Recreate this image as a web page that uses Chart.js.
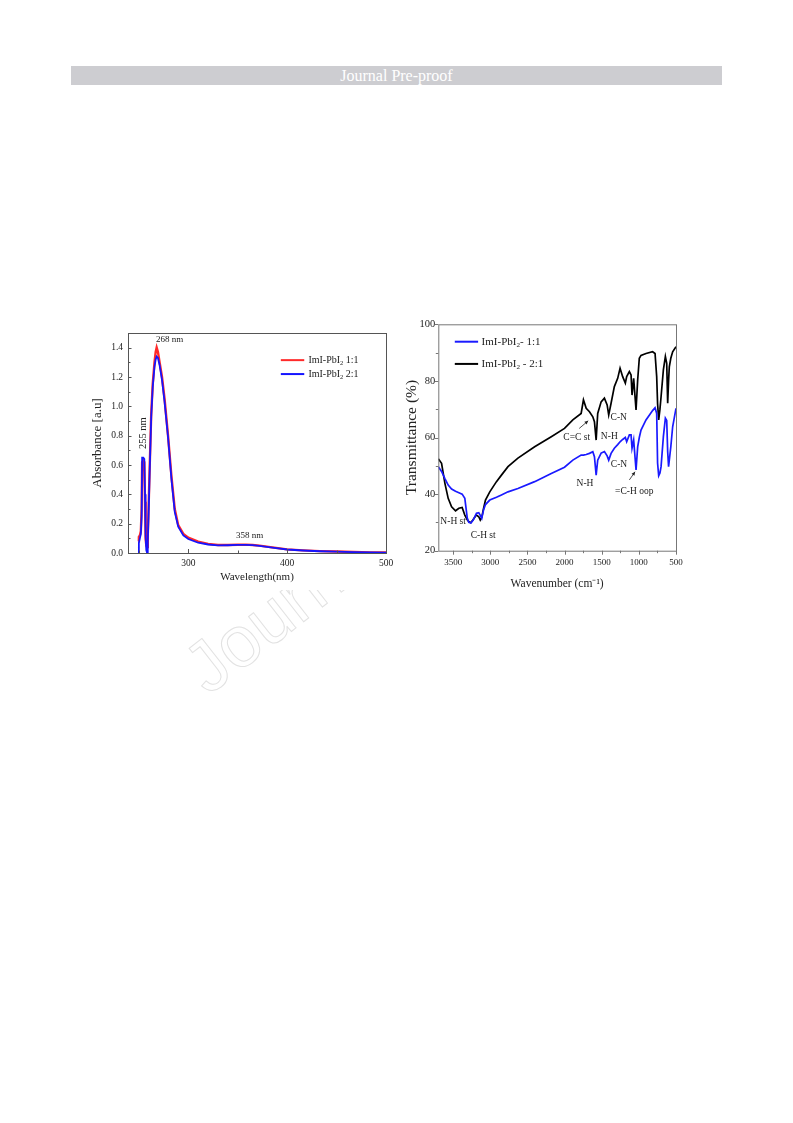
<!DOCTYPE html>
<html>
<head>
<meta charset="utf-8">
<script src="https://cdn.jsdelivr.net/npm/chart.js@4.4.1/dist/chart.umd.min.js"></script>
<style>
  body { margin: 0; background: #fff; width: 793px; height: 1123px; position: relative; overflow: hidden; font-family: "Liberation Serif", serif; }
  #header { position: absolute; left: 71px; top: 66px; width: 651px; height: 19px; background: #cdcdd1; color: #fff; font-size: 16px; line-height: 19px; text-align: center; }
  #wm { position: absolute; left: 215px; top: 633px; font-family: "Liberation Sans", sans-serif; font-size: 72px; line-height: 72px; white-space: nowrap; color: transparent; -webkit-text-stroke: 1px #e2e2e2; transform-origin: 0 100%; transform: rotate(-38deg); }
  .box { position: absolute; background: #fff; }
  #uvBox { left: 85px; top: 320px; width: 315px; height: 270px; }
  #irBox { left: 400px; top: 315px; width: 290px; height: 280px; }
</style>
</head>
<body>
<div id="header">Journal Pre-proof</div>
<div id="wm">Journal</div>
<div class="box" id="uvBox"><canvas id="uv" width="315" height="270"></canvas></div>
<div class="box" id="irBox"><canvas id="ir" width="290" height="280"></canvas></div>
<script>
// --- UV-vis (gauche) ---
const uvWavelength = [249.5, 250, 251, 252, 252.8, 253.3, 254.5, 255.5, 256.2, 256.8, 257.5, 258.3, 259, 259.8, 260.8, 262.5, 264, 265.8, 267, 268, 269.3, 271, 273.4, 276, 279.5, 283, 286.3, 289.8, 295, 300, 310, 320, 330, 340, 350, 358, 365, 372, 385, 400, 416, 433, 450, 467, 484, 500];
const uvRed  = [0.08, 0.11, 0.12, 0.15, 0.30, 0.62, 0.63, 0.62, 0.35, 0.10, 0.05, 0.04, 0.12, 0.30, 0.55, 0.95, 1.15, 1.30, 1.37, 1.40, 1.37, 1.30, 1.20, 1.05, 0.80, 0.52, 0.30, 0.19, 0.13, 0.105, 0.078, 0.062, 0.055, 0.055, 0.056, 0.057, 0.055, 0.050, 0.038, 0.025, 0.018, 0.013, 0.010, 0.007, 0.004, 0.003];
const uvBlue = [0.0, 0.07, 0.10, 0.13, 0.25, 0.65, 0.65, 0.64, 0.40, 0.12, 0.02, 0.0, 0.08, 0.25, 0.52, 0.93, 1.13, 1.27, 1.32, 1.34, 1.33, 1.28, 1.18, 1.03, 0.79, 0.50, 0.28, 0.18, 0.12, 0.095, 0.070, 0.058, 0.052, 0.053, 0.055, 0.056, 0.054, 0.049, 0.037, 0.024, 0.017, 0.012, 0.009, 0.006, 0.004, 0.003];
const uvXTicks = [300, 400, 500];
const uvXMinor = [250, 350, 450];
const uvYTicks = [0, 0.2, 0.4, 0.6, 0.8, 1.0, 1.2, 1.4];
const uvYMinor = [0.1, 0.3, 0.5, 0.7, 0.9, 1.1, 1.3];

// --- FTIR (droite) ---
const irWavenumber = [3700, 3656, 3611, 3567, 3521, 3468, 3423, 3379, 3343, 3310, 3290, 3262, 3230, 3200, 3186, 3155, 3135, 3115, 3090, 3065, 3007, 2917, 2850, 2762, 2628, 2403, 2179, 2001, 1889, 1777, 1746, 1709, 1665, 1620, 1598, 1575, 1554, 1508, 1464, 1427, 1406, 1374, 1330, 1285, 1253, 1218, 1182, 1164, 1128, 1105, 1092, 1070, 1038, 1016, 994, 971, 904, 815, 782, 760, 748, 733, 716, 701, 670, 643, 625, 612, 600, 590, 570, 545, 500];
const irBlack = [52.5, 50.9, 43.8, 38.5, 35.5, 34.1, 35.0, 35.3, 32.6, 30.9, 30.3, 29.9, 31.0, 32.2, 32.6, 32.0, 30.8, 31.8, 35.0, 37.9, 40.8, 44.4, 46.7, 49.7, 52.7, 56.7, 60.3, 63.2, 66.2, 68.5, 73.3, 70.3, 69.1, 67.3, 65.6, 59.1, 68.5, 72.6, 73.9, 71.5, 68.0, 72.1, 78.0, 80.9, 84.5, 81.5, 79.2, 81.5, 83.3, 82.1, 75.0, 80.9, 69.7, 80.3, 88.0, 89.0, 89.7, 90.3, 89.7, 81.5, 72.0, 66.2, 70.0, 74.4, 83.9, 88.6, 86.2, 72.1, 80.0, 85.0, 88.0, 90.3, 92.1];
const irBlue  = [49.7, 48.0, 45.5, 43.2, 41.8, 41.0, 40.5, 40.0, 38.5, 31.5, 30.0, 29.8, 30.8, 32.5, 33.2, 33.4, 32.5, 31.4, 34.5, 36.3, 37.9, 38.9, 39.7, 40.8, 42.0, 44.4, 47.3, 49.5, 52.0, 53.8, 53.8, 54.0, 54.4, 55.0, 53.2, 46.7, 52.0, 54.5, 55.0, 53.5, 52.0, 54.4, 56.2, 57.5, 58.5, 59.3, 60.0, 58.5, 60.9, 60.9, 56.2, 59.1, 48.5, 56.7, 60.0, 62.6, 66.2, 69.5, 70.5, 68.5, 51.0, 46.5, 47.5, 49.7, 60.3, 66.8, 66.0, 55.0, 49.7, 52.0, 56.7, 63.8, 70.3];
const irXTicks = [3500, 3000, 2500, 2000, 1500, 1000, 500];
const irXMinor = [3250, 2750, 2250, 1750, 1250, 750];
const irYTicks = [20, 40, 60, 80, 100];
const irYMinor = [30, 50, 70, 90];

const serif = "'Liberation Serif', 'Times New Roman', serif";
const ink = '#222';

const pts = (xs, ys) => xs.map((x, i) => ({ x: x, y: ys[i] }));

// Cadre + graduations (vers l'intérieur ou l'extérieur)
const frameTicks = {
    id: 'frameTicks',
    afterDraw(chart, args, o) {
        const { ctx, chartArea: a, scales: { x, y } } = chart;
        const d = o.inward ? -1 : 1;
        ctx.save();
        ctx.strokeStyle = o.color;
        ctx.lineWidth = 1;
        ctx.strokeRect(a.left + 0.5, a.top + 0.5, a.right - a.left, a.bottom - a.top);
        ctx.beginPath();
        const tx = (v, len) => { const p = Math.round(x.getPixelForValue(v)) + 0.5; ctx.moveTo(p, a.bottom); ctx.lineTo(p, a.bottom + d * len); };
        const ty = (v, len) => { const p = Math.round(y.getPixelForValue(v)) + 0.5; ctx.moveTo(a.left, p); ctx.lineTo(a.left - d * len, p); };
        o.xMajor.forEach(v => tx(v, 4));
        o.xMinor.forEach(v => tx(v, 2.5));
        o.yMajor.forEach(v => ty(v, 3.5));
        o.yMinor.forEach(v => ty(v, 2.5));
        ctx.stroke();
        ctx.restore();
    }
};

// Légende et annotations dessinées en coordonnées de données
const notes = {
    id: 'notes',
    afterDraw(chart, args, o) {
        const { ctx, scales: { x, y } } = chart;
        ctx.save();
        ctx.fillStyle = ink;
        ctx.strokeStyle = ink;
        (o.labels || []).forEach(l => {
            ctx.save();
            ctx.font = l.size + 'px ' + serif;
            ctx.textAlign = 'center';
            ctx.textBaseline = 'middle';
            ctx.translate(x.getPixelForValue(l.x), y.getPixelForValue(l.y));
            if (l.rot) ctx.rotate(l.rot);
            ctx.fillText(l.t, 0, 0);
            ctx.restore();
        });
        (o.arrows || []).forEach(ar => {
            const x0 = x.getPixelForValue(ar[0]), y0 = y.getPixelForValue(ar[1]);
            const x1 = x.getPixelForValue(ar[2]), y1 = y.getPixelForValue(ar[3]);
            const ang = Math.atan2(y1 - y0, x1 - x0);
            ctx.lineWidth = 0.8;
            ctx.beginPath(); ctx.moveTo(x0, y0); ctx.lineTo(x1, y1); ctx.stroke();
            ctx.beginPath();
            ctx.moveTo(x1, y1);
            ctx.lineTo(x1 - 4 * Math.cos(ang - 0.45), y1 - 4 * Math.sin(ang - 0.45));
            ctx.lineTo(x1 - 4 * Math.cos(ang + 0.45), y1 - 4 * Math.sin(ang + 0.45));
            ctx.closePath(); ctx.fill();
        });
        const lg = o.legend;
        if (lg) {
            lg.rows.forEach(r => {
                const py = y.getPixelForValue(r.y);
                ctx.strokeStyle = r.color;
                ctx.lineWidth = 2;
                ctx.beginPath(); ctx.moveTo(x.getPixelForValue(lg.x0), py); ctx.lineTo(x.getPixelForValue(lg.x1), py); ctx.stroke();
                let px = x.getPixelForValue(lg.tx);
                ctx.fillStyle = ink;
                ctx.textAlign = 'left';
                ctx.textBaseline = 'middle';
                ctx.font = lg.size + 'px ' + serif;
                ctx.fillText(r.main, px, py);
                px += ctx.measureText(r.main).width;
                ctx.font = (lg.size * 0.65) + 'px ' + serif;
                ctx.fillText(r.sub, px, py + lg.size * 0.3);
                px += ctx.measureText(r.sub).width;
                ctx.font = lg.size + 'px ' + serif;
                ctx.fillText(r.rest, px, py);
            });
        }
        ctx.restore();
    }
};

const uvChart = new Chart(document.getElementById('uv'), {
    type: 'line',
    data: {
        datasets: [
            { label: 'ImI-PbI2 2:1', data: pts(uvWavelength, uvBlue), borderColor: '#1414ff', borderWidth: 1.8, pointRadius: 0, tension: 0 },
            { label: 'ImI-PbI2 1:1', data: pts(uvWavelength, uvRed), borderColor: '#ff2a2a', borderWidth: 2.4, pointRadius: 0, tension: 0 }
        ]
    },
    options: {
        responsive: false,
        animation: false,
        layout: { padding: { top: 13, right: 14, left: 0, bottom: 0 } },
        plugins: {
            legend: { display: false },
            tooltip: { enabled: false },
            frameTicks: { color: '#555', inward: true, xMajor: uvXTicks, xMinor: uvXMinor, yMajor: uvYTicks, yMinor: uvYMinor },
            notes: {
                labels: [
                    { t: '268 nm', x: 281, y: 1.453, size: 9 },
                    { t: '255 nm', x: 254.2, y: 0.817, size: 10.5, rot: -Math.PI / 2 },
                    { t: '358 nm', x: 362, y: 0.12, size: 9 }
                ],
                legend: {
                    x0: 393.6, x1: 417.3, tx: 421.5, size: 10,
                    rows: [
                        { y: 1.315, color: '#ff2a2a', main: 'ImI-PbI', sub: '2', rest: ' 1:1' },
                        { y: 1.22, color: '#1414ff', main: 'ImI-PbI', sub: '2', rest: ' 2:1' }
                    ]
                }
            }
        },
        scales: {
            x: {
                type: 'linear', min: 239, max: 500,
                afterBuildTicks: s => { s.ticks = uvXTicks.map(v => ({ value: v })); },
                afterFit: s => { s.height = 37; },
                grid: { display: false, drawTicks: false },
                border: { display: false },
                ticks: { padding: 5, color: ink, font: { family: serif, size: 9.5 }, maxRotation: 0 },
                title: { display: true, text: 'Wavelength(nm)', color: ink, font: { family: serif, size: 11 }, padding: { top: 0, bottom: 6.4 } }
            },
            y: {
                type: 'linear', min: 0, max: 1.5,
                afterBuildTicks: s => { s.ticks = uvYTicks.map(v => ({ value: v })); },
                afterFit: s => { s.width = 43; },
                grid: { display: false, drawTicks: false },
                border: { display: false },
                ticks: { padding: 5, color: ink, font: { family: serif, size: 9.5 }, callback: v => v.toFixed(1) },
                title: { display: true, text: 'Absorbance [a.u]', color: ink, font: { family: serif, size: 13 }, padding: { top: 5.2, bottom: 0 } }
            }
        }
    },
    plugins: [frameTicks, notes]
});

const irChart = new Chart(document.getElementById('ir'), {
    type: 'line',
    data: {
        datasets: [
            { label: 'ImI-PbI2- 1:1', data: pts(irWavenumber, irBlue), borderColor: '#1a1aff', borderWidth: 1.7, pointRadius: 0, tension: 0 },
            { label: 'ImI-PbI2 - 2:1', data: pts(irWavenumber, irBlack), borderColor: '#000', borderWidth: 1.7, pointRadius: 0, tension: 0 }
        ]
    },
    options: {
        responsive: false,
        animation: false,
        layout: { padding: { top: 9.3, right: 14, left: 0, bottom: 0 } },
        plugins: {
            legend: { display: false },
            tooltip: { enabled: false },
            frameTicks: { color: '#777', inward: false, xMajor: irXTicks, xMinor: irXMinor, yMajor: irYTicks, yMinor: irYMinor },
            notes: {
                labels: [
                    { t: 'N-H st', x: 3500, y: 30.2, size: 9.5 },
                    { t: 'C-H st', x: 3096, y: 25.5, size: 9.5 },
                    { t: 'C=C st', x: 1837, y: 60.1, size: 9.5 },
                    { t: 'N-H', x: 1398, y: 60.3, size: 9.5 },
                    { t: 'C-N', x: 1271, y: 67.2, size: 9.5 },
                    { t: 'N-H', x: 1725, y: 43.7, size: 9.5 },
                    { t: 'C-N', x: 1267, y: 50.3, size: 9.5 },
                    { t: '=C-H oop', x: 1062, y: 40.8, size: 9.5 }
                ],
                arrows: [
                    [1803, 63.2, 1682, 65.9],
                    [1128, 45.0, 1051, 47.9]
                ],
                legend: {
                    x0: 3478, x1: 3164, tx: 3117, size: 11,
                    rows: [
                        { y: 93.85, color: '#1a1aff', main: 'ImI-PbI', sub: '2', rest: '- 1:1' },
                        { y: 86.0, color: '#000', main: 'ImI-PbI', sub: '2', rest: ' - 2:1' }
                    ]
                }
            }
        },
        scales: {
            x: {
                type: 'linear', min: 500, max: 3700, reverse: true,
                afterBuildTicks: s => { s.ticks = irXTicks.map(v => ({ value: v })); },
                afterFit: s => { s.height = 44.3; },
                grid: { display: false, drawTicks: false },
                border: { display: false },
                ticks: { padding: 7, color: ink, font: { family: serif, size: 9 }, maxRotation: 0, callback: v => String(v) },
                title: { display: true, text: 'Wavenumber (cm⁻¹)', color: ink, font: { family: serif, size: 11.5 }, padding: { top: 0, bottom: 3.8 } }
            },
            y: {
                type: 'linear', min: 20, max: 100,
                afterBuildTicks: s => { s.ticks = irYTicks.map(v => ({ value: v })); },
                afterFit: s => { s.width = 38.3; },
                grid: { display: false, drawTicks: false },
                border: { display: false },
                ticks: { padding: 3, color: ink, font: { family: serif, size: 10.5 } },
                title: { display: true, text: 'Transmittance (%)', color: ink, font: { family: serif, size: 15.5 }, padding: { top: 3, bottom: 0 } }
            }
        }
    },
    plugins: [frameTicks, notes]
});
</script>
</body>
</html>
